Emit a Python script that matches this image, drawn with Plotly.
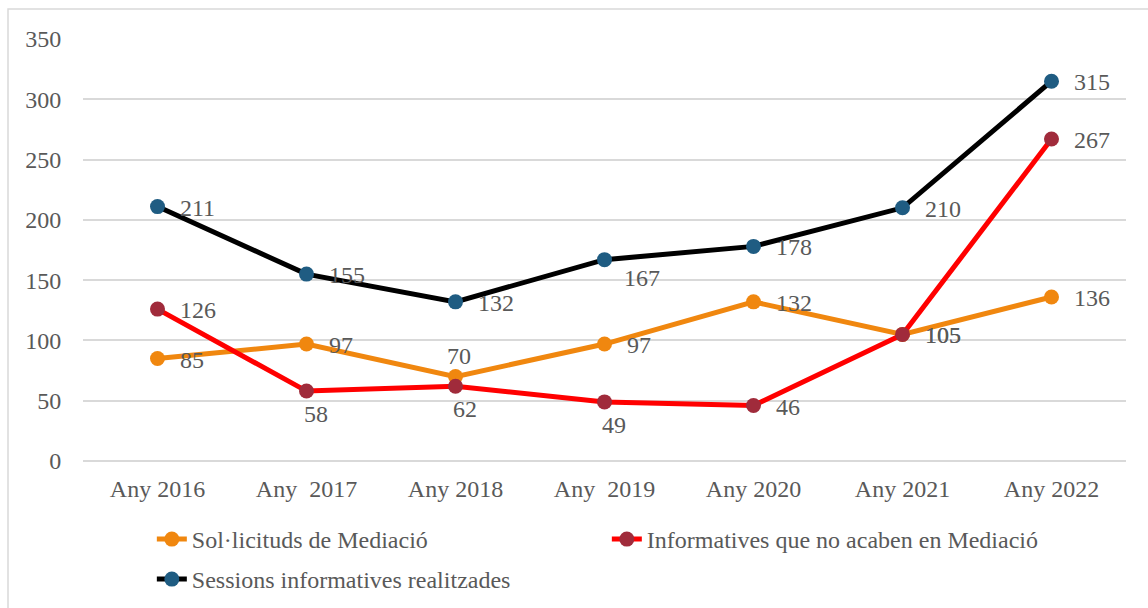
import plotly.graph_objects as go

categories = ["Any 2016", "Any  2017", "Any 2018", "Any  2019", "Any 2020", "Any 2021", "Any 2022"]
solicituds = [85, 97, 70, 97, 132, 105, 136]
informatives_no = [126, 58, 62, 49, 46, 105, 267]
sessions = [211, 155, 132, 167, 178, 210, 315]
y_ticks = [0, 50, 100, 150, 200, 250, 300, 350]

# label placement style per point: r = right, b = below, t = above, br = below right
pos_solicituds = ["r", "r", "t", "r", "r", "r", "r"]
pos_informatives = ["r", "b", "b", "b", "r", "r", "r"]
pos_sessions = ["r", "r", "r", "br", "r", "r", "r"]

FONT = "Liberation Serif, Times New Roman, serif"
TXT = "#595959"
FS = 24

series = [
    ("Sol·licituds de Mediació", solicituds, "#F0870F", "#F0870F", pos_solicituds, "legend"),
    ("Informatives que no acaben en Mediació", informatives_no, "#FF0000", "#A02B3B", pos_informatives, "legend"),
    ("Sessions informatives realitzades", sessions, "#000000", "#1F5C82", pos_sessions, "legend2"),
]

fig = go.Figure()
annotations = []
for name, vals, lc, mc, poss, leg in series:
    fig.add_trace(go.Scatter(
        x=categories, y=vals, name=name, mode="lines+markers",
        line=dict(color=lc, width=5),
        marker=dict(color=mc, size=15),
        legend=leg,
    ))
    for c, v, p in zip(categories, vals, poss):
        a = dict(x=c, y=v, text=str(v), showarrow=False,
                 font=dict(family=FONT, size=FS, color=TXT))
        if p == "r":
            a.update(xanchor="left", yanchor="middle", xshift=20, yshift=-1)
        elif p == "b":
            a.update(xanchor="center", yanchor="middle", xshift=9, yshift=-23)
        elif p == "t":
            a.update(xanchor="center", yanchor="middle", xshift=3, yshift=21)
        elif p == "br":
            a.update(xanchor="left", yanchor="middle", xshift=17, yshift=-18)
        annotations.append(a)

fig.update_layout(
    width=1148, height=608,
    margin=dict(l=83, r=22, t=39, b=147, autoexpand=False),
    paper_bgcolor="white", plot_bgcolor="white",
    font=dict(family=FONT, size=FS, color=TXT),
    showlegend=True,
    legend=dict(
        orientation="h", x=0.066, y=0.1497, xanchor="left", yanchor="top",
        yref="container",
        entrywidthmode="pixels", entrywidth=410,
        font=dict(family=FONT, size=FS, color=TXT),
        bgcolor="rgba(0,0,0,0)",
    ),
    legend2=dict(
        orientation="h", x=0.066, y=0.0839, xanchor="left", yanchor="top",
        yref="container",
        font=dict(family=FONT, size=FS, color=TXT),
        bgcolor="rgba(0,0,0,0)",
    ),
    xaxis=dict(
        type="category", range=[-0.5, 6.5], showgrid=False,
        showline=False, ticks="outside", ticklen=6, tickcolor="rgba(0,0,0,0)",
        tickfont=dict(family=FONT, size=FS, color=TXT),
    ),
    yaxis=dict(
        range=[0, 350], tickvals=y_ticks, showgrid=True, gridcolor="#D9D9D9",
        gridwidth=1.5, zeroline=True, zerolinecolor="#D9D9D9", zerolinewidth=1.5,
        showline=False, ticks="outside", ticklen=16, tickcolor="rgba(0,0,0,0)",
        tickfont=dict(family=FONT, size=FS, color=TXT),
    ),
    annotations=annotations,
    shapes=[dict(type="rect", xref="paper", yref="paper",
                 x0=-0.0719, x1=1.03, y0=-0.4, y1=1.071,
                 line=dict(color="#D9D9D9", width=1.5))],
)

fig.write_html("out.html", config={"displayModeBar": False},
               post_script="document.body.style.margin='0';")
